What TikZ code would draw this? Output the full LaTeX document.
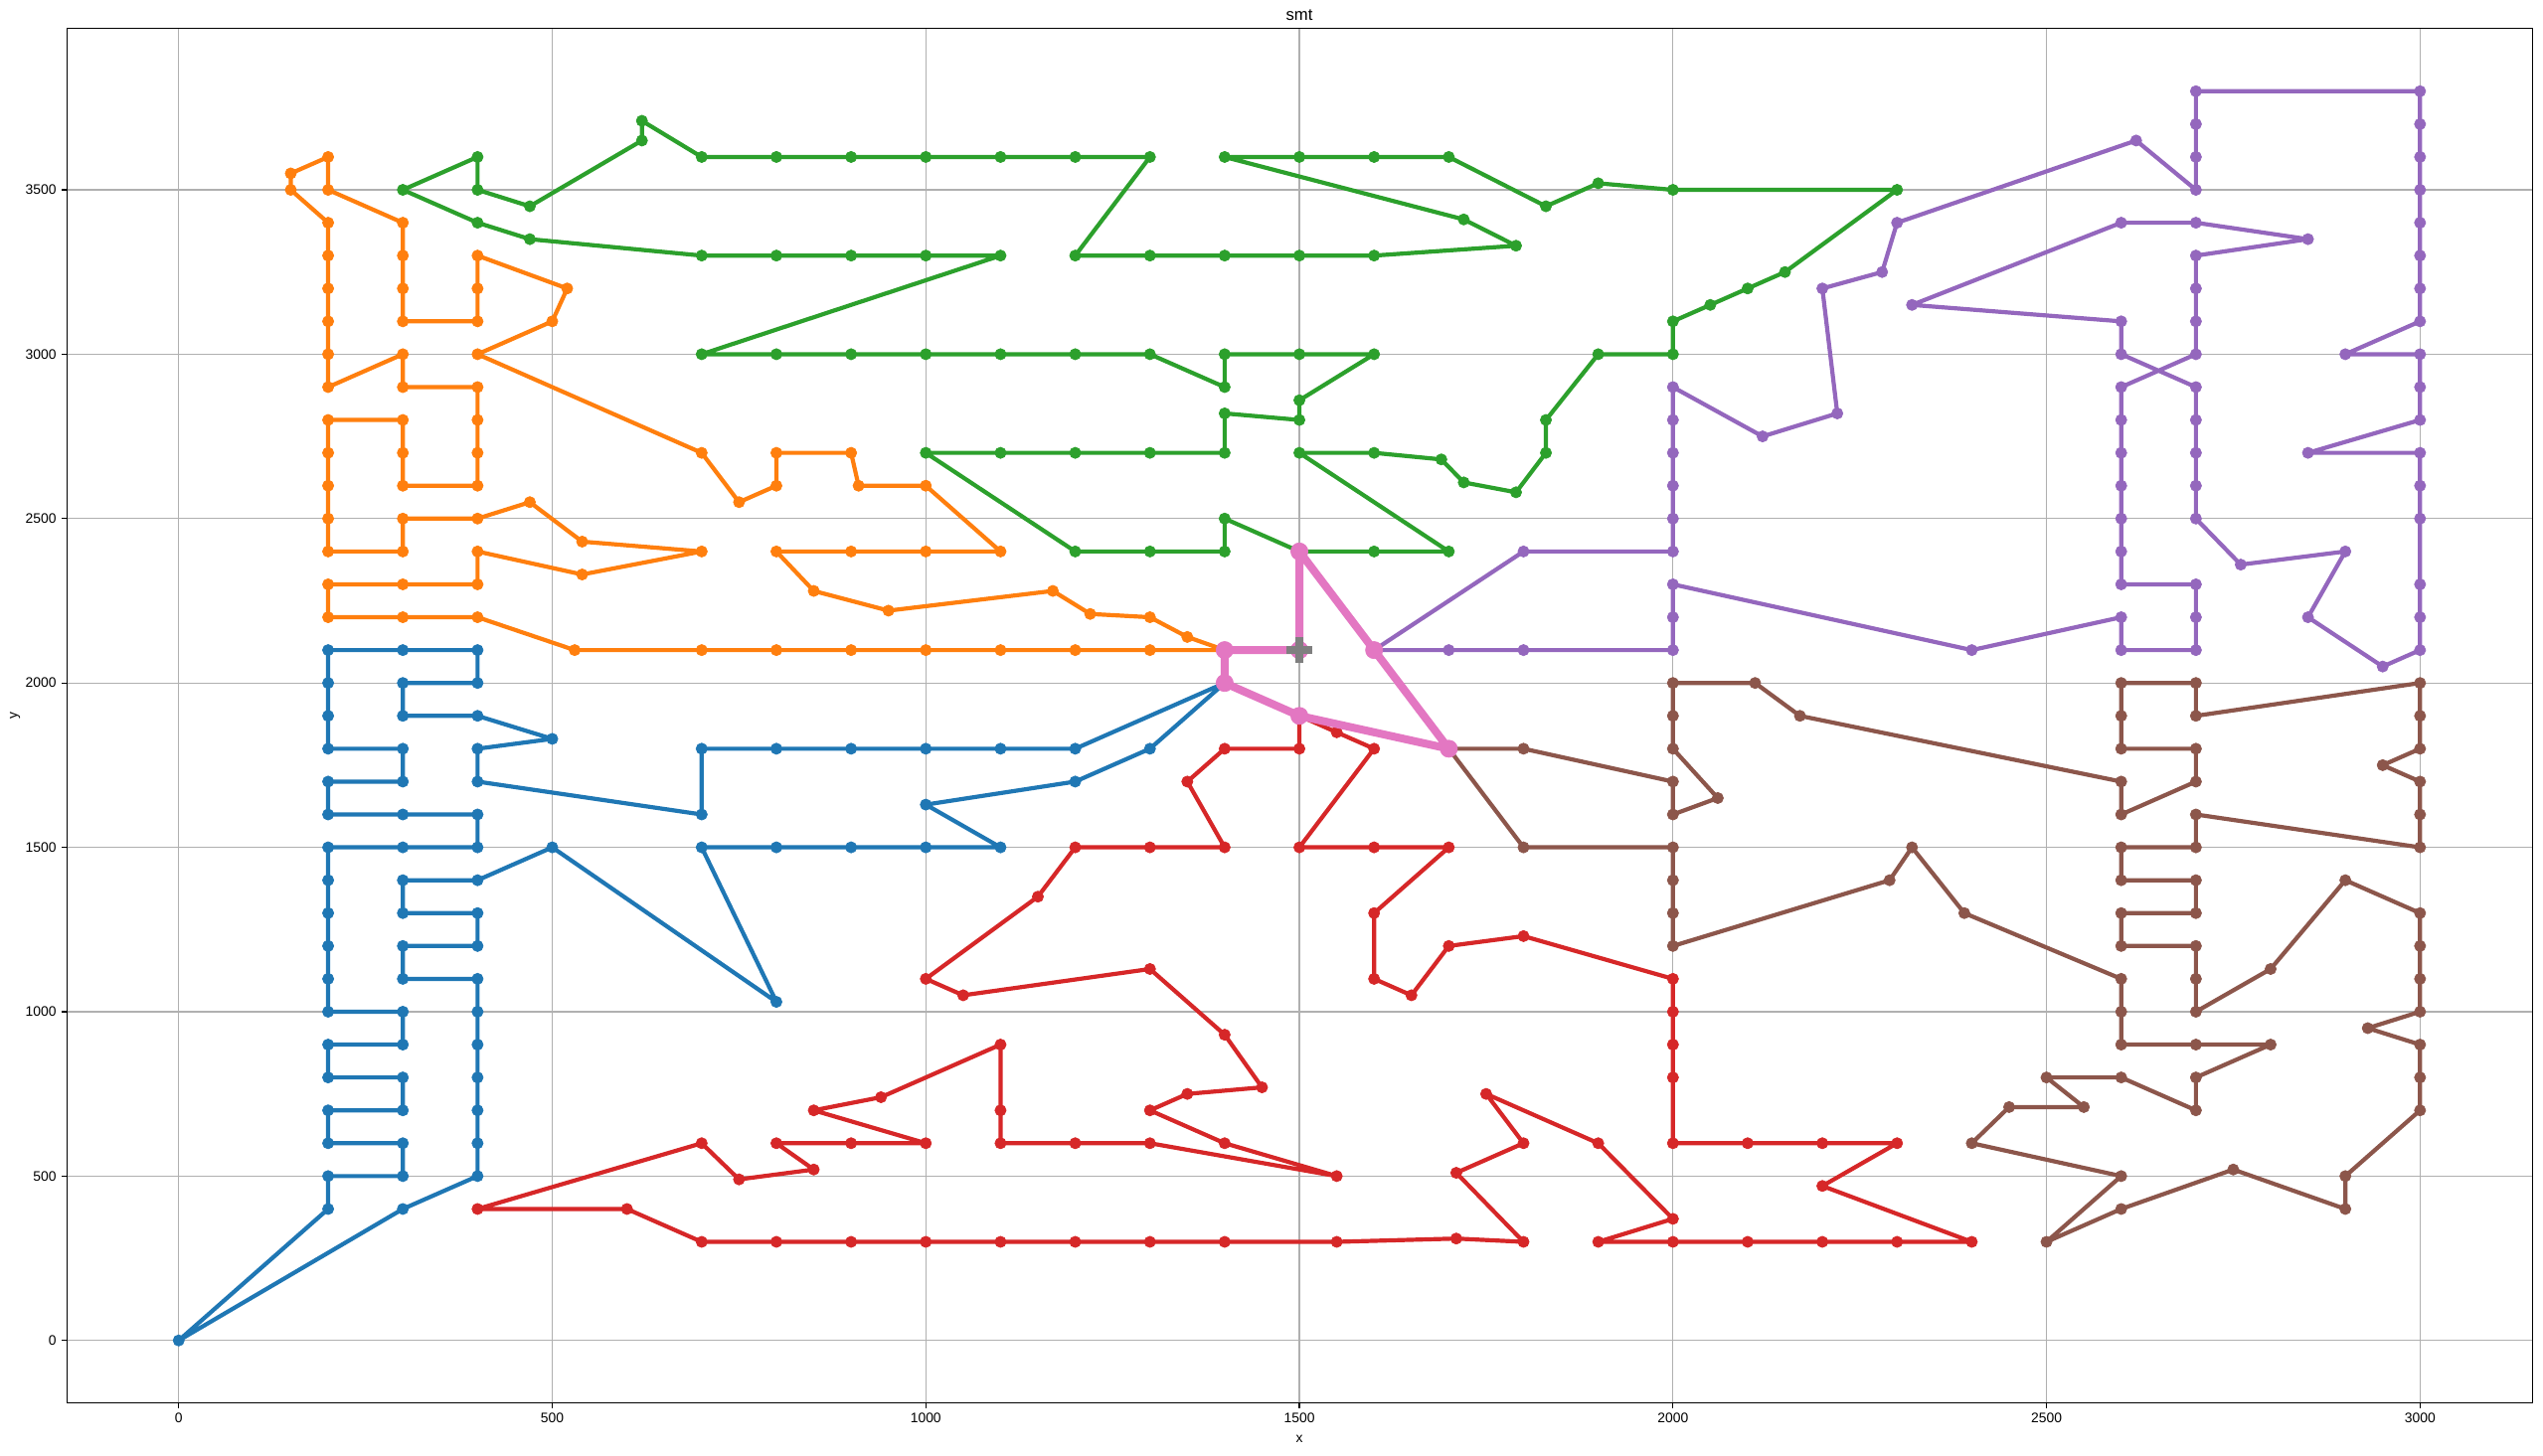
\documentclass[tikz,border=0pt]{standalone}
\usepackage{fontspec}
\setmainfont{Liberation Sans}
\definecolor{cblue}{HTML}{1F77B4}
\definecolor{corange}{HTML}{FF7F0E}
\definecolor{cgreen}{HTML}{2CA02C}
\definecolor{cred}{HTML}{D62728}
\definecolor{cpurple}{HTML}{9467BD}
\definecolor{cbrown}{HTML}{8C564B}
\definecolor{cpink}{HTML}{E377C2}
\definecolor{cgray}{HTML}{7F7F7F}
\definecolor{gridgray}{HTML}{B0B0B0}

\begin{document}
\begin{tikzpicture}[x=0.007515cm, y=0.003313cm,
    route/.style={draw=#1, line width=0.042cm, line join=round,
      mark=*, mark size=1.6pt, mark options={fill=#1, draw=#1, line width=0.2pt}},
    trunk/.style={draw=cpink, line width=0.08cm, line join=round,
      mark=*, mark size=2.45pt, mark options={fill=cpink, draw=cpink, line width=0.2pt}},
    gridline/.style={draw=gridgray, line width=0.011cm},
    ticklab/.style={font=\fontsize{3.95}{4.7}\selectfont, inner sep=0pt},
  ]
  \useasboundingbox (-239.2,-350) rectangle (3164.6,4077.5);

  % 网格和刻度
  \foreach \x in {0,500,...,3000} {
    \draw[gridline] (\x,-190) -- (\x,3990);
    \draw[line width=0.011cm] (\x,-190) -- ++(0,-0.049cm);
    \node[ticklab, anchor=north, yshift=-0.098cm] (xt\x) at (\x,-190) {\x};
  }
  \foreach \y in {0,500,...,3500} {
    \draw[gridline] (-150,\y) -- (3150,\y);
    \draw[line width=0.011cm] (-150,\y) -- ++(-0.049cm,0);
    \node[ticklab, anchor=east, xshift=-0.098cm] (yt\y) at (-150,\y) {\y};
  }

  % 各条路线
  \draw[route=cblue] plot coordinates {(1400,2000) (1200,1800) (1100,1800) (1000,1800) (900,1800) (800,1800) (700,1800) (700,1600) (400,1700) (400,1800) (500,1830) (400,1900) (300,1900) (300,2000) (400,2000) (400,2100) (300,2100) (200,2100) (200,2000) (200,1900) (200,1800) (300,1800) (300,1700) (200,1700) (200,1600) (300,1600) (400,1600) (400,1500) (300,1500) (200,1500) (200,1400) (200,1300) (200,1200) (200,1100) (200,1000) (300,1000) (300,900) (200,900) (200,800) (300,800) (300,700) (200,700) (200,600) (300,600) (300,500) (200,500) (200,400) (0,0) (300,400) (400,500) (400,600) (400,700) (400,800) (400,900) (400,1000) (400,1100) (300,1100) (300,1200) (400,1200) (400,1300) (300,1300) (300,1400) (400,1400) (500,1500) (800,1030) (700,1500) (800,1500) (900,1500) (1000,1500) (1100,1500) (1000,1630) (1200,1700) (1300,1800) (1400,2000)};

  \draw[route=corange] plot coordinates {(1400,2100) (1300,2100) (1200,2100) (1100,2100) (1000,2100) (900,2100) (800,2100) (700,2100) (530,2100) (400,2200) (300,2200) (200,2200) (200,2300) (300,2300) (400,2300) (400,2400) (540,2330) (700,2400) (540,2430) (470,2550) (400,2500) (300,2500) (300,2400) (200,2400) (200,2500) (200,2600) (200,2700) (200,2800) (300,2800) (300,2700) (300,2600) (400,2600) (400,2700) (400,2800) (400,2900) (300,2900) (300,3000) (200,2900) (200,3000) (200,3100) (200,3200) (200,3300) (200,3400) (150,3500) (150,3550) (200,3600) (200,3500) (300,3400) (300,3300) (300,3200) (300,3100) (400,3100) (400,3200) (400,3300) (520,3200) (500,3100) (400,3000) (700,2700) (750,2550) (800,2600) (800,2700) (900,2700) (910,2600) (1000,2600) (1100,2400) (1000,2400) (900,2400) (800,2400) (850,2280) (950,2220) (1170,2280) (1220,2210) (1300,2200) (1350,2140) (1400,2100)};

  \draw[route=cgreen] plot coordinates {(1500,2400) (1400,2500) (1400,2400) (1300,2400) (1200,2400) (1000,2700) (1100,2700) (1200,2700) (1300,2700) (1400,2700) (1400,2820) (1500,2800) (1500,2860) (1600,3000) (1500,3000) (1400,3000) (1400,2900) (1300,3000) (1200,3000) (1100,3000) (1000,3000) (900,3000) (800,3000) (700,3000) (1100,3300) (1000,3300) (900,3300) (800,3300) (700,3300) (470,3350) (400,3400) (300,3500) (400,3600) (400,3500) (470,3450) (620,3650) (620,3710) (700,3600) (800,3600) (900,3600) (1000,3600) (1100,3600) (1200,3600) (1300,3600) (1200,3300) (1300,3300) (1400,3300) (1500,3300) (1600,3300) (1790,3330) (1720,3410) (1400,3600) (1500,3600) (1600,3600) (1700,3600) (1830,3450) (1900,3520) (2000,3500) (2300,3500) (2150,3250) (2100,3200) (2050,3150) (2000,3100) (2000,3000) (1900,3000) (1830,2800) (1830,2700) (1790,2580) (1720,2610) (1690,2680) (1600,2700) (1500,2700) (1700,2400) (1600,2400) (1500,2400)};

  \draw[route=cred] plot coordinates {(1500,1900) (1500,1800) (1400,1800) (1350,1700) (1400,1500) (1300,1500) (1200,1500) (1150,1350) (1000,1100) (1050,1050) (1300,1130) (1400,930) (1450,770) (1350,750) (1300,700) (1400,600) (1550,500) (1300,600) (1200,600) (1100,600) (1100,700) (1100,900) (940,740) (850,700) (1000,600) (900,600) (800,600) (850,520) (750,490) (700,600) (400,400) (600,400) (700,300) (800,300) (900,300) (1000,300) (1100,300) (1200,300) (1300,300) (1400,300) (1550,300) (1710,310) (1800,300) (1710,510) (1800,600) (1750,750) (1900,600) (2000,370) (1900,300) (2000,300) (2100,300) (2200,300) (2300,300) (2400,300) (2200,470) (2300,600) (2200,600) (2100,600) (2000,600) (2000,800) (2000,900) (2000,1000) (2000,1100) (1800,1230) (1700,1200) (1650,1050) (1600,1100) (1600,1300) (1700,1500) (1600,1500) (1500,1500) (1600,1800) (1550,1850) (1500,1900)};

  \draw[route=cpurple] plot coordinates {(1600,2100) (1800,2400) (2000,2400) (2000,2500) (2000,2600) (2000,2700) (2000,2800) (2000,2900) (2120,2750) (2220,2820) (2200,3200) (2280,3250) (2300,3400) (2620,3650) (2700,3500) (2700,3600) (2700,3700) (2700,3800) (3000,3800) (3000,3700) (3000,3600) (3000,3500) (3000,3400) (3000,3300) (3000,3200) (3000,3100) (2900,3000) (3000,3000) (3000,2900) (3000,2800) (2850,2700) (3000,2700) (3000,2600) (3000,2500) (3000,2300) (3000,2200) (3000,2100) (2950,2050) (2850,2200) (2900,2400) (2760,2360) (2700,2500) (2700,2600) (2700,2700) (2700,2800) (2700,2900) (2600,3000) (2600,3100) (2320,3150) (2600,3400) (2700,3400) (2850,3350) (2700,3300) (2700,3200) (2700,3100) (2700,3000) (2600,2900) (2600,2800) (2600,2700) (2600,2600) (2600,2500) (2600,2400) (2600,2300) (2700,2300) (2700,2200) (2700,2100) (2600,2100) (2600,2200) (2400,2100) (2000,2300) (2000,2200) (2000,2100) (1800,2100) (1700,2100) (1600,2100)};

  \draw[route=cbrown] plot coordinates {(1700,1800) (1800,1800) (2000,1700) (2000,1600) (2060,1650) (2000,1800) (2000,1900) (2000,2000) (2110,2000) (2170,1900) (2600,1700) (2600,1600) (2700,1700) (2700,1800) (2600,1800) (2600,1900) (2600,2000) (2700,2000) (2700,1900) (3000,2000) (3000,1900) (3000,1800) (2950,1750) (3000,1700) (3000,1600) (3000,1500) (2700,1600) (2700,1500) (2600,1500) (2600,1400) (2700,1400) (2700,1300) (2600,1300) (2600,1200) (2700,1200) (2700,1100) (2700,1000) (2800,1130) (2900,1400) (3000,1300) (3000,1200) (3000,1100) (3000,1000) (2930,950) (3000,900) (3000,800) (3000,700) (2900,500) (2900,400) (2750,520) (2600,400) (2500,300) (2600,500) (2400,600) (2450,710) (2550,710) (2500,800) (2600,800) (2700,700) (2700,800) (2800,900) (2700,900) (2600,900) (2600,1000) (2600,1100) (2390,1300) (2320,1500) (2290,1400) (2000,1200) (2000,1300) (2000,1400) (2000,1500) (1800,1500) (1700,1800)};

  % 连接仓库的主干
  \draw[trunk] plot coordinates {(1500,2100) (1500,2400) (1600,2100) (1700,1800) (1500,1900) (1400,2000) (1400,2100) (1500,2100)};

  % 仓库
  \coordinate (depot) at (1500,2100);
  \fill[cgray] ([shift={(-0.13cm,-0.043cm)}]depot) rectangle ([shift={(0.13cm,0.043cm)}]depot);
  \fill[cgray] ([shift={(-0.043cm,-0.13cm)}]depot) rectangle ([shift={(0.043cm,0.13cm)}]depot);

  % 坐标框和标签
  \draw[line width=0.01cm] (-150,-190) rectangle (3150,3990);
  \node[ticklab, yshift=-0.36cm] (xlab) at (1500,-190) {x};
  \node[ticklab, xshift=-0.52cm, rotate=90] (ylab) at (-150,1900) {y};
  \node[font=\fontsize{4.74}{5.6}\selectfont, inner sep=0pt, anchor=base, yshift=0.083cm] (title) at (1500,3990) {smt};
\end{tikzpicture}
\end{document}
